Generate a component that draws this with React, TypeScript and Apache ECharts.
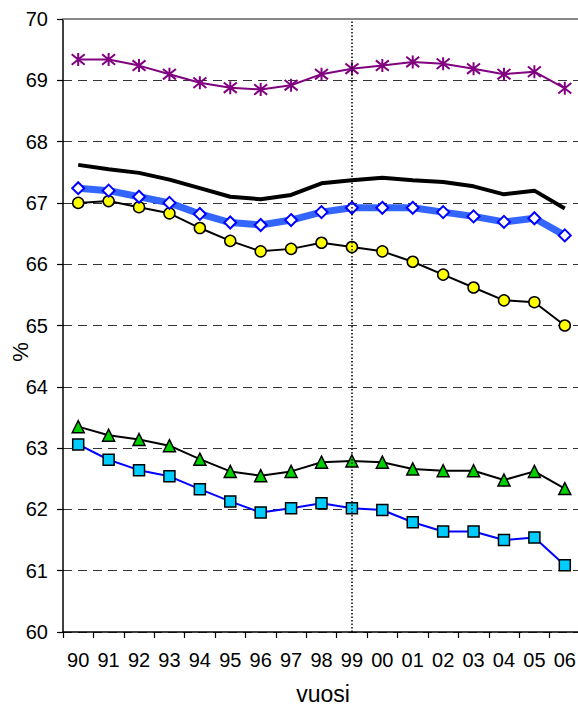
import React, { useEffect, useRef } from "react";
import * as echarts from "echarts";

const years = ["90", "91", "92", "93", "94", "95", "96", "97", "98", "99", "00", "01", "02", "03", "04", "05", "06"];

const purpleStar = [69.34, 69.34, 69.24, 69.1, 68.96, 68.88, 68.85, 68.92, 69.1, 69.19, 69.24, 69.3, 69.27, 69.19, 69.1, 69.14, 68.87];
const blackThick = [67.62, 67.55, 67.49, 67.38, 67.24, 67.1, 67.06, 67.13, 67.32, 67.37, 67.41, 67.37, 67.34, 67.27, 67.14, 67.2, 66.91];
const blueDiamond = [67.24, 67.2, 67.1, 67.0, 66.82, 66.68, 66.64, 66.72, 66.85, 66.92, 66.92, 66.92, 66.85, 66.78, 66.69, 66.75, 66.47];
const yellowCircle = [67.0, 67.03, 66.93, 66.83, 66.59, 66.38, 66.21, 66.25, 66.35, 66.28, 66.21, 66.04, 65.83, 65.62, 65.41, 65.38, 65.0];
const greenTriangle = [63.35, 63.21, 63.14, 63.04, 62.82, 62.62, 62.55, 62.62, 62.77, 62.79, 62.77, 62.66, 62.63, 62.63, 62.48, 62.62, 62.34];
const cyanSquare = [63.06, 62.81, 62.64, 62.54, 62.33, 62.13, 61.95, 62.02, 62.1, 62.02, 61.99, 61.79, 61.64, 61.64, 61.5, 61.54, 61.09];

const FONT = "'Liberation Sans', Arial, sans-serif";

export default function App() {
  const ref = useRef<HTMLDivElement>(null);
  useEffect(() => {
    if (!ref.current) return;
    const chart = echarts.init(ref.current, null, { renderer: "svg" });
    chart.setOption({
      animation: false,
      backgroundColor: "#ffffff",
      textStyle: { fontFamily: FONT },
      grid: { left: 63, top: 19, right: -2, bottom: 75, outerBoundsMode: "none" },
      xAxis: {
        type: "category",
        data: years,
        boundaryGap: true,
        axisLine: { lineStyle: { color: "#000", width: 1.5 } },
        axisTick: { show: true, length: 6, lineStyle: { color: "#000", width: 1.2 } },
        axisLabel: { color: "#000", fontSize: 20, fontFamily: FONT, margin: 18 },
        splitLine: { show: false },
      },
      yAxis: {
        type: "value",
        min: 60,
        max: 70,
        interval: 1,
        axisLine: { show: true, lineStyle: { color: "#000", width: 1.5 } },
        axisTick: { show: true, length: 6, lineStyle: { color: "#000", width: 1.2 } },
        axisLabel: { color: "#000", fontSize: 20, fontFamily: FONT, margin: 15 },
        splitLine: { show: true, lineStyle: { color: "#333", width: 1, type: [9, 6] } },
      },
      graphic: [
        {
          type: "text",
          x: 323,
          y: 694,
          style: { text: "vuosi", fontSize: 23, fontFamily: FONT, fill: "#000", textAlign: "center", textVerticalAlign: "middle" },
        },
        {
          type: "text",
          x: 20,
          y: 352,
          rotation: Math.PI / 2,
          style: { text: "%", fontSize: 22, fontFamily: FONT, fill: "#000", textAlign: "center", textVerticalAlign: "middle" },
        },
      ],
      series: [
        {
          type: "line",
          data: cyanSquare,
          symbol: "rect",
          symbolSize: 11,
          lineStyle: { color: "#0000ff", width: 2 },
          itemStyle: { color: "#00ccff", borderColor: "#000", borderWidth: 1.5 },
          z: 3,
          markLine: {
            silent: true,
            symbol: ["none", "none"],
            label: { show: false },
            data: [
              { xAxis: "99", lineStyle: { color: "#000", width: 1.5, type: [1.5, 2] } },
              { yAxis: 70, lineStyle: { color: "#888", width: 2, type: "solid" } },
            ],
          },
        },
        {
          type: "line",
          data: greenTriangle,
          symbol: "triangle",
          symbolSize: 12,
          lineStyle: { color: "#000", width: 2 },
          itemStyle: { color: "#00d000", borderColor: "#000", borderWidth: 1.5 },
          z: 3,
        },
        {
          type: "line",
          data: yellowCircle,
          symbol: "circle",
          symbolSize: 11,
          lineStyle: { color: "#000", width: 2 },
          itemStyle: { color: "#ffff00", borderColor: "#000", borderWidth: 1.5 },
          z: 3,
        },
        {
          type: "line",
          data: blueDiamond,
          symbol: "diamond",
          symbolSize: [12, 12],
          lineStyle: { color: "#3366ff", width: 7 },
          itemStyle: { color: "#ffffff", borderColor: "#0000ff", borderWidth: 2 },
          z: 3,
        },
        {
          type: "line",
          data: blackThick,
          symbol: "none",
          lineStyle: { color: "#000", width: 4 },
          z: 3,
        },
        {
          type: "line",
          data: purpleStar,
          symbol: "path://M5 0 L5 10 M0 1 L10 9 M10 1 L0 9",
          symbolSize: 13,
          lineStyle: { color: "#800080", width: 2 },
          itemStyle: { color: "none", borderColor: "#800080", borderWidth: 2 },
          z: 3,
        },
      ],
    });
    return () => chart.dispose();
  }, []);
  return (
    <div
      ref={ref}
      style={{ position: "fixed", left: 0, top: 0, width: 578, height: 707, background: "#fff" }}
    />
  );
}
